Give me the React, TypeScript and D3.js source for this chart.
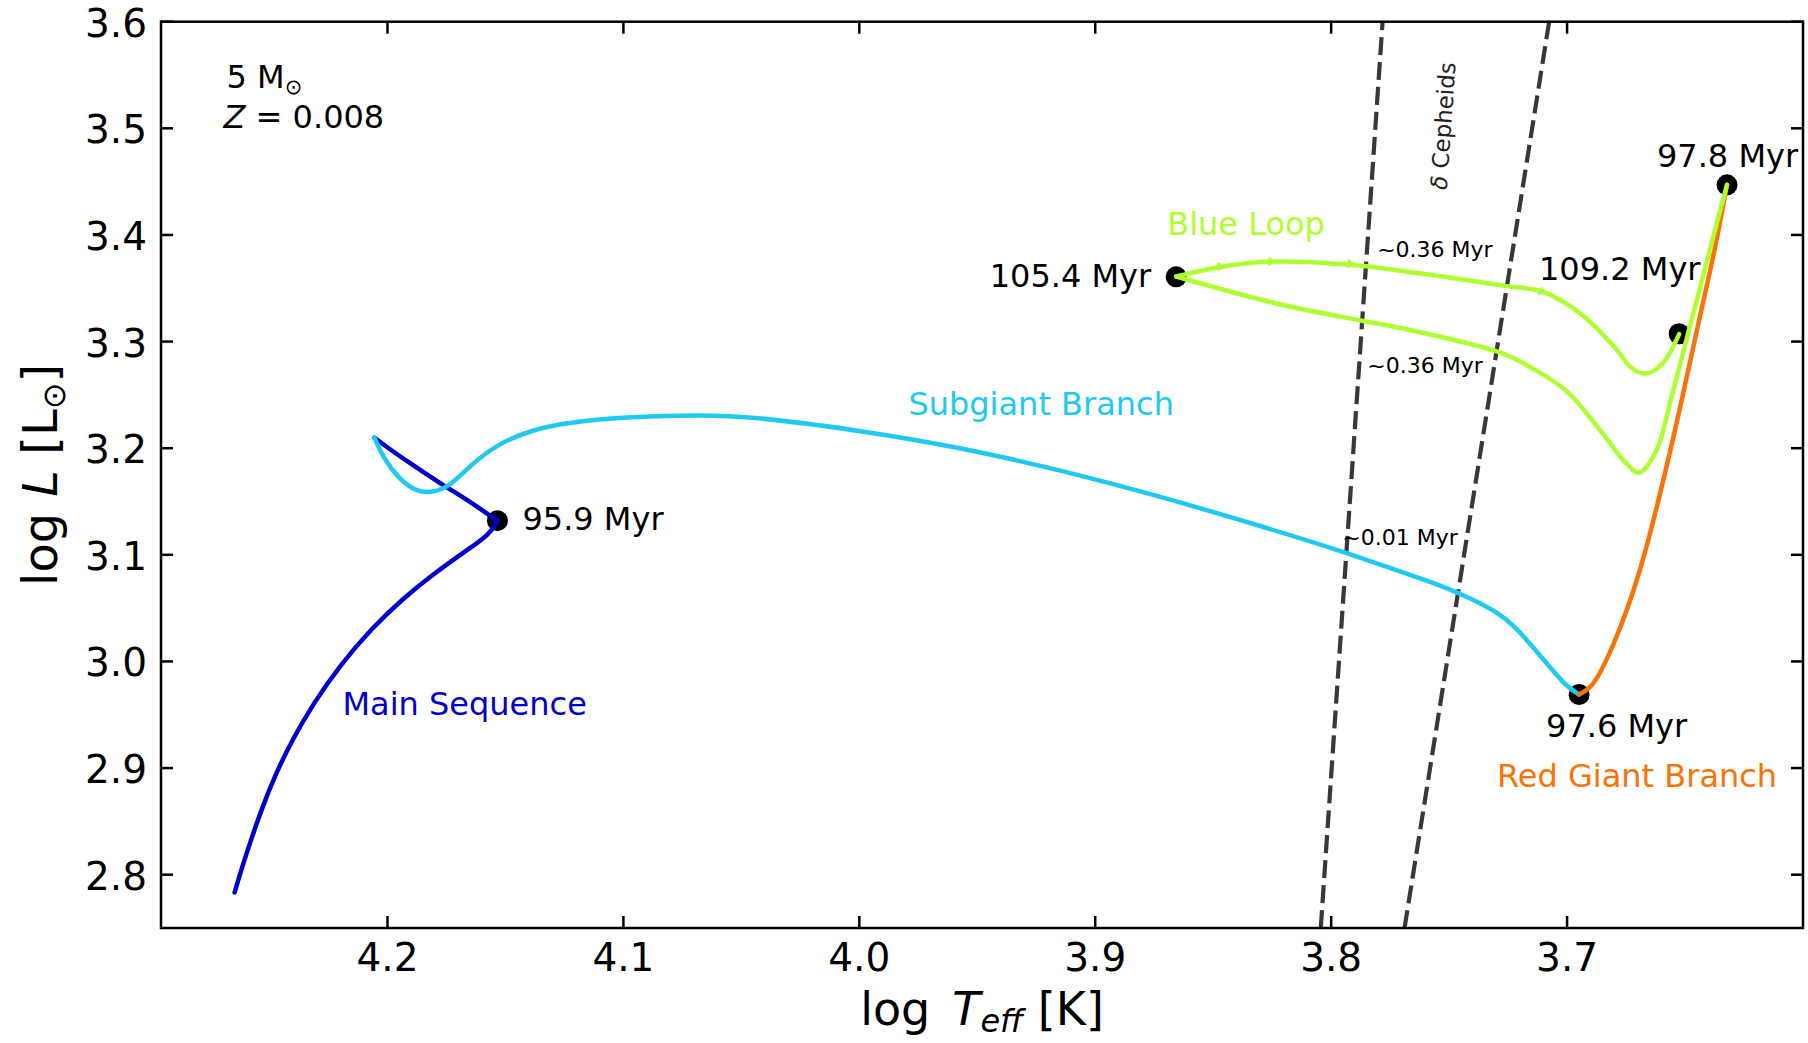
import React, { useEffect, useRef } from "react";
import * as d3 from "d3";

// HR diagram of a 5 Msun, Z=0.008 track
const W = 1808;
const H = 1043;

const xDomain = [4.296, 3.6];
const yDomain = [2.75, 3.6];
const xTicks = [4.2, 4.1, 4.0, 3.9, 3.8, 3.7];
const yTicks = [2.8, 2.9, 3.0, 3.1, 3.2, 3.3, 3.4, 3.5, 3.6];

// main sequence up to the turn-off, then the hook
const msT = [4.2648, 4.2619, 4.2578, 4.2534, 4.2475, 4.2403, 4.2317, 4.2202, 4.2068, 4.193, 4.1803, 4.1667, 4.1568, 4.1534];
const msL = [2.7834, 2.805, 2.8331, 2.8612, 2.894, 2.9268, 2.9596, 2.9962, 3.0308, 3.0599, 3.0824, 3.1039, 3.1189, 3.132];
const hookT = [4.1534, 4.1665, 4.178, 4.1907, 4.2004, 4.2055];
const hookL = [3.132, 3.1517, 3.1677, 3.1864, 3.2014, 3.2098];

// subgiant branch
const sgbT = [4.2055, 4.2021, 4.1949, 4.1877, 4.1809, 4.1737, 4.1639, 4.1525, 4.1384, 4.1243, 4.0962, 4.0678, 4.0449, 4.0017, 3.9585, 3.9153, 3.872, 3.8288, 3.7936, 3.7712, 3.7542, 3.7415, 3.7288, 3.7216, 3.7148, 3.7076, 3.7004, 3.6949];
const sgbL = [3.2098, 3.192, 3.1705, 3.1592, 3.1583, 3.1639, 3.1861, 3.2049, 3.2173, 3.2242, 3.2295, 3.2314, 3.2295, 3.2173, 3.2014, 3.1798, 3.1545, 3.1264, 3.1021, 3.0845, 3.0721, 3.0599, 3.0455, 3.0315, 3.0142, 2.9955, 2.9768, 2.969];

// red giant branch
const rgbT = [3.6949, 3.6907, 3.6864, 3.678, 3.6695, 3.661, 3.6513, 3.6441, 3.6373, 3.6322];
const rgbL = [2.969, 2.974, 2.986, 3.027, 3.080, 3.152, 3.245, 3.320, 3.386, 3.447];

// blue loop: out to the blue tip, then back
const loopOutT = [3.6322, 3.6356, 3.6411, 3.6483, 3.6555, 3.6623, 3.6695, 3.675, 3.6864, 3.7004, 3.7148, 3.7288, 3.7712, 3.7881, 3.8237, 3.8657];
const loopOutL = [3.447, 3.419, 3.372, 3.311, 3.250, 3.197, 3.177, 3.186, 3.218, 3.254, 3.275, 3.290, 3.313, 3.320, 3.336, 3.361];
const loopBackT = [3.8657, 3.847, 3.8254, 3.7919, 3.7627, 3.7258, 3.7106, 3.6936, 3.6792, 3.6725, 3.6665, 3.6597, 3.6525];
const loopBackL = [3.361, 3.370, 3.375, 3.372, 3.364, 3.352, 3.347, 3.325, 3.293, 3.275, 3.270, 3.279, 3.307];
const arrowT = [3.847, 3.8254, 3.7919, 3.7106];
const arrowL = [3.3704, 3.3751, 3.3729, 3.3467];

// instability strip edges
const stripL = [2.75, 3.6];
const blueEdgeT = [3.8044, 3.7782];
const redEdgeT = [3.7689, 3.7076];

// ages
const dotT = [4.1534, 3.6949, 3.6322, 3.8657, 3.6525];
const dotL = [3.132, 2.969, 3.447, 3.3607, 3.3073];
const ageText = ["95.9 Myr", "97.6 Myr", "97.8 Myr", "105.4 Myr", "109.2 Myr"];
const ageT = [4.1428, 3.7089, 3.6619, 3.8763, 3.7119];
const ageL = [3.1236, 2.9296, 3.4638, 3.3514, 3.3579];
const ageAnchor = ["start", "start", "start", "end", "start"];

// crossing times
const crossText = ["~0.36 Myr", "~0.36 Myr", "~0.01 Myr"];
const crossT = [3.7805, 3.7847, 3.7953];
const crossL = [3.3795, 3.2708, 3.1096];

const MS_COLOR = "#0000cd";
const SGB_COLOR = "#1ec9f2";
const RGB_COLOR = "#f97306";
const LOOP_COLOR = "#adff2f";

const phaseText = ["Main Sequence", "Subgiant Branch", "Red Giant Branch", "Blue Loop"];
const phaseColor = [MS_COLOR, SGB_COLOR, RGB_COLOR, LOOP_COLOR];
const phaseT = [4.2191, 3.9792, 3.7297, 3.8695];
const phaseL = [2.9502, 3.2314, 2.8818, 3.4001];

const zip = (a: number[], b: number[]) => a.map((v, i) => [v, b[i]] as [number, number]);

export default function App() {
  const ref = useRef<SVGSVGElement>(null);

  useEffect(() => {
    const svg = d3.select(ref.current);
    svg.selectAll("*").remove();

    const left = 161, right = 1803, top = 21.7, bottom = 928;
    const x = d3.scaleLinear().domain(xDomain).range([left, right]);
    const y = d3.scaleLinear().domain(yDomain).range([bottom, top]);

    svg.append("defs").append("clipPath").attr("id", "plotclip")
      .append("rect").attr("x", left).attr("y", top)
      .attr("width", right - left).attr("height", bottom - top);

    const g = svg.append("g").attr("clip-path", "url(#plotclip)");

    // instability strip
    [blueEdgeT, redEdgeT].forEach(edge => {
      g.append("line")
        .attr("x1", x(edge[0])).attr("y1", y(stripL[0]))
        .attr("x2", x(edge[1])).attr("y2", y(stripL[1]))
        .attr("stroke", "#383838").attr("stroke-width", 4.2)
        .attr("stroke-dasharray", "18 7");
    });

    // age markers (under the tracks)
    g.selectAll(".dot").data(zip(dotT, dotL)).join("circle")
      .attr("class", "dot")
      .attr("cx", d => x(d[0])).attr("cy", d => y(d[1]))
      .attr("r", 10.5).attr("fill", "black");

    const smooth = d3.line<[number, number]>()
      .x(d => x(d[0])).y(d => y(d[1]))
      .curve(d3.curveBasis);
    const sharp = d3.line<[number, number]>()
      .x(d => x(d[0])).y(d => y(d[1]))
      .curve(d3.curveCatmullRom.alpha(0.5));

    const tracks = [
      { T: msT, L: msL, c: MS_COLOR, gen: smooth },
      { T: hookT, L: hookL, c: MS_COLOR, gen: sharp },
      { T: sgbT, L: sgbL, c: SGB_COLOR, gen: smooth },
      { T: rgbT, L: rgbL, c: RGB_COLOR, gen: smooth },
      { T: loopOutT, L: loopOutL, c: LOOP_COLOR, gen: sharp },
      { T: loopBackT, L: loopBackL, c: LOOP_COLOR, gen: sharp },
    ];
    tracks.forEach(t => {
      g.append("path").attr("d", t.gen(zip(t.T, t.L)))
        .attr("fill", "none").attr("stroke", t.c).attr("stroke-width", 4.5)
        .attr("stroke-linejoin", "round").attr("stroke-linecap", "round");
    });

    // little direction arrows on the way back
    const back = zip(loopBackT, loopBackL).map(d => [x(d[0]), y(d[1])]);
    zip(arrowT, arrowL).forEach(a => {
      const px = x(a[0]), py = y(a[1]);
      let i = back.findIndex(p => p[0] > px);
      if (i < 1) i = 1;
      const ang = Math.atan2(back[i][1] - back[i - 1][1], back[i][0] - back[i - 1][0]) * 180 / Math.PI;
      g.append("path")
        .attr("d", d3.symbol(d3.symbolTriangle, 40)())
        .attr("transform", `translate(${px},${py}) rotate(${ang + 90})`)
        .attr("fill", LOOP_COLOR);
    });

    // frame and ticks
    svg.append("rect").attr("x", left).attr("y", top)
      .attr("width", right - left).attr("height", bottom - top)
      .attr("fill", "none").attr("stroke", "black").attr("stroke-width", 2.5);

    const tl = 12;
    xTicks.forEach(v => {
      svg.append("line").attr("x1", x(v)).attr("x2", x(v)).attr("y1", bottom).attr("y2", bottom - tl)
        .attr("stroke", "black").attr("stroke-width", 2.5);
      svg.append("line").attr("x1", x(v)).attr("x2", x(v)).attr("y1", top).attr("y2", top + tl)
        .attr("stroke", "black").attr("stroke-width", 2.5);
      svg.append("text").attr("x", x(v)).attr("y", 971).attr("text-anchor", "middle")
        .attr("font-size", 39).text(v.toFixed(1));
    });
    yTicks.forEach(v => {
      svg.append("line").attr("x1", left).attr("x2", left + tl).attr("y1", y(v)).attr("y2", y(v))
        .attr("stroke", "black").attr("stroke-width", 2.5);
      svg.append("line").attr("x1", right).attr("x2", right - tl).attr("y1", y(v)).attr("y2", y(v))
        .attr("stroke", "black").attr("stroke-width", 2.5);
      svg.append("text").attr("x", 147).attr("y", y(v) + 15).attr("text-anchor", "end")
        .attr("font-size", 39).text(v.toFixed(1));
    });

    // axis labels
    const xl = svg.append("text").attr("x", (left + right) / 2).attr("y", 1025)
      .attr("text-anchor", "middle").attr("font-size", 46);
    xl.append("tspan").text("log");
    xl.append("tspan").attr("dx", 22).attr("font-style", "italic").text("T");
    xl.append("tspan").attr("font-style", "italic").attr("font-size", 32).attr("dy", 7).text("eff");
    xl.append("tspan").attr("dy", -7).text(" [K]");

    const yl = svg.append("text").attr("transform", `translate(57,${(top + bottom) / 2}) rotate(-90)`)
      .attr("text-anchor", "middle").attr("font-size", 48);
    yl.append("tspan").text("log");
    yl.append("tspan").attr("dx", 16).attr("font-style", "italic").text("L");
    yl.append("tspan").text(" [L");
    yl.append("tspan").attr("font-size", 32).attr("dy", 8).text("\u2299");
    yl.append("tspan").attr("dy", -8).text("]");

    // annotations
    const t1 = svg.append("text").attr("x", x(4.2682)).attr("y", y(3.5379)).attr("font-size", 32);
    t1.append("tspan").text("5 M");
    t1.append("tspan").attr("font-size", 21).attr("dy", 6).text("\u2299");
    const t2 = svg.append("text").attr("x", x(4.2695)).attr("y", y(3.5004)).attr("font-size", 32);
    t2.append("tspan").attr("font-style", "italic").text("Z");
    t2.append("tspan").text(" = 0.008");

    ageText.forEach((s, i) => {
      svg.append("text").attr("x", x(ageT[i])).attr("y", y(ageL[i]))
        .attr("text-anchor", ageAnchor[i]).attr("font-size", 32).text(s);
    });
    crossText.forEach((s, i) => {
      svg.append("text").attr("x", x(crossT[i])).attr("y", y(crossL[i]))
        .attr("font-size", 22).text(s);
    });
    phaseText.forEach((s, i) => {
      svg.append("text").attr("x", x(phaseT[i])).attr("y", y(phaseL[i]))
        .attr("font-size", 32).attr("fill", phaseColor[i]).text(s);
    });

    const ceph = svg.append("text")
      .attr("transform", `translate(${x(3.7525)},${y(3.5022)}) rotate(-86)`)
      .attr("text-anchor", "middle").attr("dy", 8).attr("font-size", 23).attr("fill", "#222");
    ceph.append("tspan").attr("font-style", "italic").text("\u03b4");
    ceph.append("tspan").text(" Cepheids");
  }, []);

  return (
    <svg
      ref={ref}
      width={W}
      height={H}
      fontFamily="DejaVu Sans"
      style={{ position: "absolute", left: 0, top: 0, background: "white" }}
    />
  );
}
